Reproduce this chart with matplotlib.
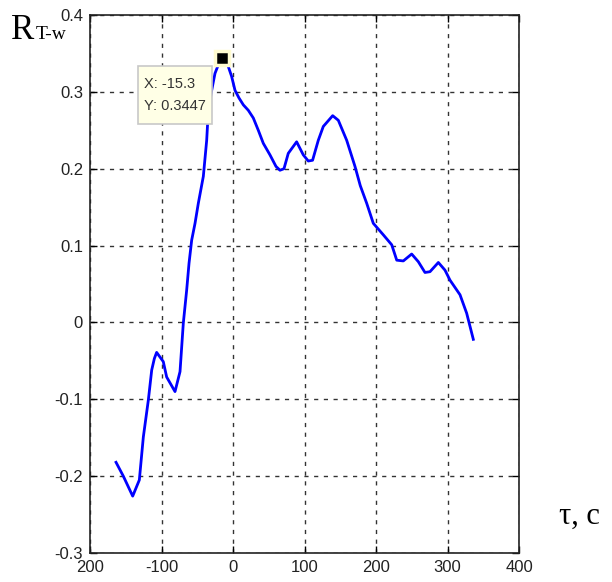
import numpy as np
import matplotlib.pyplot as plt
from matplotlib.patches import FancyBboxPatch

# lag (tau) and correlation values
tau = [-163.6, -153.4, -140.3, -131.0, -125.4, -118.4, -113.7, -110.0, -106.8, -97.5,
       -92.8, -81.1, -74.1, -69.5, -64.8, -61.5, -57.8, -53.1, -48.5, -41.5,
       -36.8, -34.5, -29.8, -25.2, -20.6, -15.3, -6.6, -1.9, 2.8, 8.4,
       14.5, 21.4, 28.4, 35.4, 42.4, 51.7, 60.1, 65.7, 71.3, 77.3,
       89.0, 98.3, 105.3, 111.3, 119.3, 126.3, 139.4, 147.3, 159.0, 170.6,
       178.0, 187.0, 196.2, 210.2, 222.0, 229.0, 238.2, 249.9, 259.2, 268.5,
       275.5, 287.2, 296.5, 303.5, 317.5, 326.8, 336.1]
r_tw = [-0.182, -0.200, -0.226, -0.205, -0.149, -0.101, -0.062, -0.047, -0.039, -0.051,
        -0.071, -0.090, -0.064, -0.001, 0.042, 0.077, 0.107, 0.129, 0.155, 0.190,
        0.237, 0.276, 0.302, 0.324, 0.335, 0.3447, 0.333, 0.320, 0.302, 0.292,
        0.283, 0.276, 0.266, 0.250, 0.233, 0.218, 0.203, 0.198, 0.200, 0.220,
        0.235, 0.218, 0.210, 0.211, 0.237, 0.255, 0.269, 0.263, 0.237, 0.203,
        0.178, 0.155, 0.129, 0.114, 0.101, 0.081, 0.080, 0.089, 0.079, 0.065,
        0.066, 0.078, 0.068, 0.055, 0.036, 0.012, -0.022]

peak_x, peak_y = -15.3, 0.3447

xticks = [-200, -100, 0, 100, 200, 300, 400]
xlabels = ["200", "-100", "0", "100", "200", "300", "400"]
yticks = [-0.3, -0.2, -0.1, 0, 0.1, 0.2, 0.3, 0.4]
ylabels = ["-0.3", "-0.2", "-0.1", "0", "0.1", "0.2", "0.3", "0.4"]

W, H = 612, 582
fig = plt.figure(figsize=(W / 100, H / 100), dpi=100)
ax = fig.add_axes([90 / W, 1 - 553 / H, (519 - 90) / W, (553 - 15) / H])

ax.plot(tau, r_tw, color="#0000ff", lw=2.0, zorder=3, solid_joinstyle="round")
ax.plot([peak_x], [peak_y], marker="s", ms=10, mfc="black", mec="#fffbd0",
        mew=2.5, zorder=5)

ax.set_xlim(-200, 400)
ax.set_ylim(-0.3, 0.4)
ax.set_xticks(xticks)
ax.set_xticklabels(xlabels)
ax.set_yticks(yticks)
ax.set_yticklabels(ylabels)

ax.grid(True, color="#333333", linestyle=(0, (3, 4)), lw=1.0)
ax.tick_params(direction="in", length=5, width=1, top=True, right=True,
               labelsize=12, labelcolor="#222222", pad=5)
for lab in ax.get_xticklabels() + ax.get_yticklabels():
    lab.set_family("Liberation Sans")
for s in ax.spines.values():
    s.set_linewidth(1.2)
    s.set_color("#222222")

# data tip box
box = FancyBboxPatch((138 / W, 1 - 124 / H), (212 - 138) / W, (124 - 66) / H,
                     boxstyle="square,pad=0", transform=fig.transFigure,
                     facecolor="#ffffe6", edgecolor="#c8c8c8", lw=1.2, zorder=10)
fig.add_artist(box)
fig.text(144 / W, 1 - 84 / H, "X: -15.3", fontsize=10.5, family="Liberation Sans",
         color="#333333", va="center", zorder=11)
fig.text(144 / W, 1 - 106 / H, "Y: 0.3447", fontsize=10.5, family="Liberation Sans",
         color="#333333", va="center", zorder=11)

# axis captions
fig.text(11 / W, 1 - 39 / H, "R", fontsize=25, family="Liberation Serif",
         va="baseline", ha="left")
fig.text(36 / W, 1 - 39 / H, "T-w", fontsize=14, family="Liberation Serif",
         va="baseline", ha="left")
fig.text(559 / W, 1 - 524 / H, "τ, c", fontsize=22, family="Liberation Serif",
         va="baseline", ha="left")

fig.savefig("out.png", dpi=100)
